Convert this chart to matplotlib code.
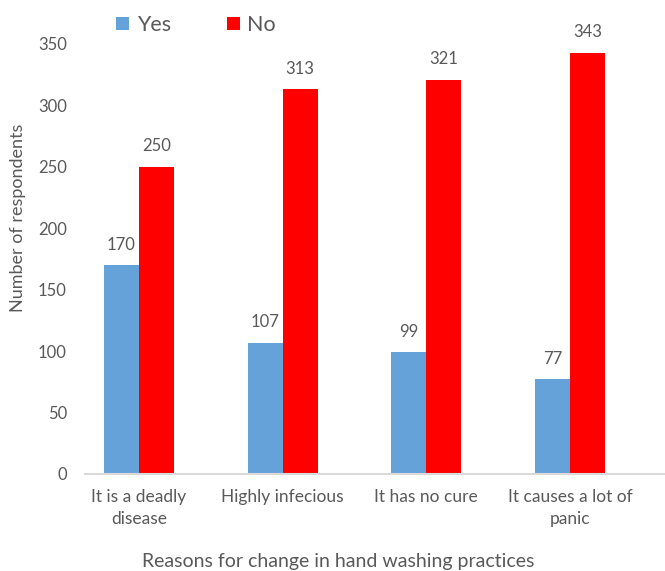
import matplotlib.pyplot as plt
import numpy as np

plt.rcParams['font.family'] = ['Lato', 'DejaVu Sans']

reasons = ['It is a deadly\ndisease', 'Highly infecious', 'It has no cure',
           'It causes a lot of\npanic']
yes = [170, 107, 99, 77]
no = [250, 313, 321, 343]

grey = '#595959'
blue = '#65A2DA'
red = '#FF0000'

fig = plt.figure(figsize=(6.65, 5.71), dpi=100)
ax = fig.add_axes([85 / 665, 97 / 571, 580 / 665, 430 / 571])

x = np.arange(len(reasons))
w = 0.2436
b1 = ax.bar(x - w / 2, yes, w, color=blue, label='Yes', zorder=2)
b2 = ax.bar(x + w / 2, no, w, color=red, label='No', zorder=2)

for bars, vals in ((b1, yes), (b2, no)):
    for r, v in zip(bars, vals):
        ax.annotate(str(v), (r.get_x() + r.get_width() / 2, v),
                    xytext=(0, 9), textcoords='offset points',
                    ha='center', va='bottom', fontsize=12, color=grey)

ax.set_ylim(0, 350)
ax.set_yticks(range(0, 351, 50))
ax.set_xlim(-0.376, 3.661)
ax.set_xticks(x)
ax.set_xticklabels(reasons, fontsize=12.5, color=grey, linespacing=1.45)
ax.tick_params(axis='y', labelsize=12, labelcolor=grey, length=0, pad=13)
ax.tick_params(axis='x', length=0, pad=11)

for s in ('top', 'right', 'left'):
    ax.spines[s].set_visible(False)
ax.spines['bottom'].set_color('#D9D9D9')
ax.spines['bottom'].set_linewidth(1.5)

fig.text(18 / 665, 1 - 218 / 571, 'Number of respondents', rotation=90,
         ha='center', va='center', fontsize=13, color=grey)
fig.text(338 / 665, 1 - 562 / 571, 'Reasons for change in hand washing practices',
         ha='center', va='center', fontsize=14, color=grey)

fig.legend(loc='center', bbox_to_anchor=(196 / 665, 1 - 25 / 571), ncol=2,
           frameon=False, fontsize=15.5, labelcolor=grey, handlelength=0.6,
           handleheight=0.6, handletextpad=0.35, columnspacing=2.6,
           borderpad=0)

fig.savefig('out.png', dpi=100)
